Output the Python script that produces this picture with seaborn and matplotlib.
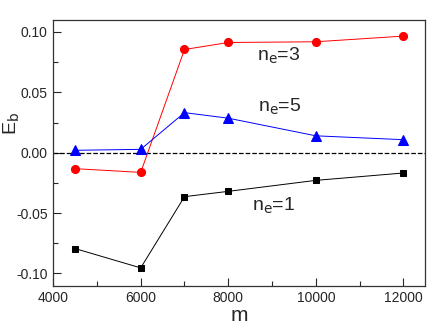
import seaborn as sns
import matplotlib.pyplot as plt
from matplotlib.ticker import MultipleLocator
import pandas as pd

sns.set_style("white")
plt.rcParams['font.family'] = ['Liberation Sans', 'DejaVu Sans']

# Data
m = [4500, 6000, 7000, 8000, 10000, 12000]
eb_ne1 = [-0.0794, -0.0954, -0.0364, -0.0320, -0.0229, -0.0168]
eb_ne3 = [-0.0132, -0.0163, 0.0855, 0.0913, 0.0919, 0.0966]
eb_ne5 = [0.0020, 0.0028, 0.0332, 0.0286, 0.0140, 0.0108]

fig, ax = plt.subplots(figsize=(4.43, 3.32), dpi=100)
fig.subplots_adjust(left=0.12, right=0.96, bottom=0.14, top=0.94)

ax.axhline(0, color='black', ls='--', lw=0.9, zorder=1)

series = [
    (eb_ne1, 'black', 's', 5),
    (eb_ne3, 'red', 'o', 5.8),
    (eb_ne5, 'blue', '^', 6.5),
]
for vals, col, mk, ms in series:
    df = pd.DataFrame({'m': m, 'Eb': vals})
    sns.lineplot(data=df, x='m', y='Eb', ax=ax, color=col, lw=0.7,
                 marker=mk, markersize=ms, markeredgecolor=col, zorder=3)

ax.text(8650, 0.0805, r'n$_\mathrm{e}$=3', fontsize=14, va='center')
ax.text(8680, 0.0383, r'n$_\mathrm{e}$=5', fontsize=14, va='center')
ax.text(8550, -0.0437, r'n$_\mathrm{e}$=1', fontsize=14, va='center')

ax.set_xlim(4000, 12500)
ax.set_ylim(-0.11, 0.11)
ax.xaxis.set_major_locator(MultipleLocator(2000))
ax.xaxis.set_minor_locator(MultipleLocator(1000))
ax.yaxis.set_major_locator(MultipleLocator(0.05))
ax.yaxis.set_minor_locator(MultipleLocator(0.025))
ax.yaxis.set_major_formatter(plt.FormatStrFormatter('%.2f'))
ax.tick_params(which='both', direction='in', bottom=True, left=True, top=False, right=False,
               labelsize=10, pad=4)
ax.tick_params(which='major', length=6, width=0.8)
ax.tick_params(which='minor', length=3.5, width=0.8)
for s in ax.spines.values():
    s.set_color('#333333')
    s.set_linewidth(0.9)

ax.set_xlabel('m', fontsize=15, labelpad=1)
ax.set_ylabel(r'E$_\mathrm{b}$', fontsize=14)
ax.yaxis.set_label_coords(-0.085, 0.61)

fig.savefig('out.png', dpi=100)
